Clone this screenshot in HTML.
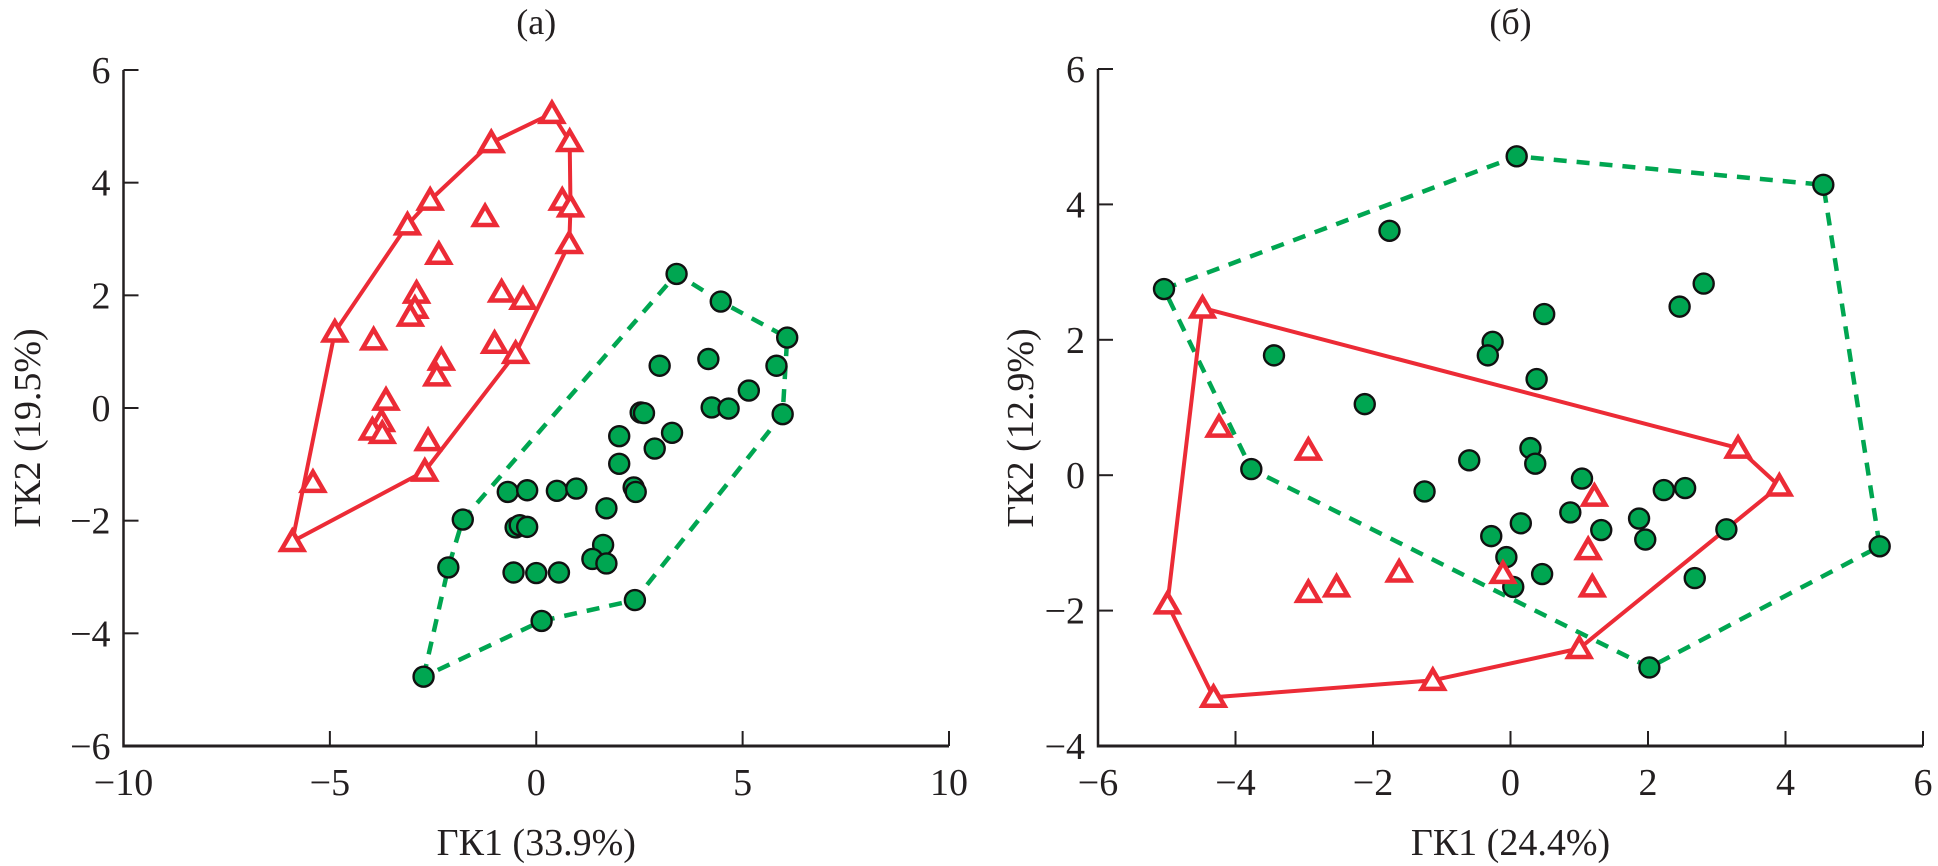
<!DOCTYPE html>
<html><head><meta charset="utf-8"><style>
html,body{margin:0;padding:0;background:#fff;}
svg{display:block;}
text{font-family:"Liberation Serif","DejaVu Serif",serif;fill:#231f20;}
</style></head><body>
<svg id="chart" width="1938" height="866" viewBox="0 0 1938 866" xmlns="http://www.w3.org/2000/svg"></svg>
<script>
// Panel (a) data
const aRedX = [0.38,0.81,-1.09,0.63,0.83,-2.57,-1.24,-3.12,-2.36,0.80,-2.90,-2.94,-3.05,-0.84,-0.32,-4.88,-3.94,-1.01,-0.50,-2.30,-2.41,-3.64,-3.75,-3.97,-3.73,-2.62,-2.70,-5.41,-5.91];
const aRedY = [5.23,4.73,4.71,3.69,3.57,3.69,3.40,3.25,2.73,2.92,2.04,1.77,1.63,2.06,1.93,1.35,1.21,1.15,0.97,0.85,0.57,0.14,-0.24,-0.39,-0.45,-0.58,-1.12,-1.32,-2.37];
const aRedHullX = [-5.91,-4.88,-3.12,-2.57,-1.09,0.38,0.81,0.83,0.80,-0.50,-2.70];
const aRedHullY = [-2.37,1.35,3.25,3.69,4.71,5.23,4.73,3.57,2.92,0.97,-1.12];
const aGreenX = [3.40,4.47,6.08,2.99,4.17,5.82,5.15,4.25,4.66,5.97,2.53,2.61,2.01,3.29,2.87,2.01,2.36,2.41,-0.69,-0.22,0.50,0.97,1.70,-1.78,-0.50,-0.40,-0.22,1.62,1.36,1.70,-2.13,-0.55,0.00,0.55,2.39,0.13,-2.73];
const aGreenY = [2.38,1.89,1.25,0.75,0.87,0.75,0.31,0.01,-0.01,-0.11,-0.08,-0.09,-0.50,-0.44,-0.72,-0.99,-1.41,-1.49,-1.49,-1.46,-1.47,-1.43,-1.78,-1.98,-2.12,-2.08,-2.11,-2.43,-2.68,-2.76,-2.83,-2.92,-2.93,-2.92,-3.41,-3.78,-4.77];
const aGreenHullX = [-2.73,-2.13,-1.78,3.40,4.47,6.08,5.97,2.39,0.13];
const aGreenHullY = [-4.77,-2.83,-1.98,2.38,1.89,1.25,-0.11,-3.41,-3.78];
const aXTicks = [-10,-5,0,5,10];
const aYTicks = [6,4,2,0,-2,-4,-6];

// Panel (b) data
const bGreenX = [0.09,-1.76,-5.04,0.49,-0.26,-0.33,-3.44,0.38,-2.12,0.29,0.36,-0.60,-3.77,1.04,-1.25,0.87,0.15,1.32,-0.28,-0.06,0.46,0.04,4.55,2.81,2.46,5.37,2.23,2.54,1.87,1.96,3.14,2.68,2.02];
const bGreenY = [4.71,3.61,2.75,2.38,1.97,1.77,1.77,1.42,1.05,0.40,0.17,0.22,0.09,-0.05,-0.24,-0.55,-0.71,-0.81,-0.90,-1.21,-1.46,-1.65,4.29,2.83,2.49,-1.05,-0.22,-0.19,-0.64,-0.95,-0.80,-1.52,-2.84];
const bGreenHullX = [-5.04,0.09,4.55,5.37,2.02,-3.77];
const bGreenHullY = [2.75,4.71,4.29,-1.05,-2.84,0.09];
const bRedX = [-4.48,-4.24,-2.94,-4.99,-2.94,-2.53,-1.62,-0.11,1.22,1.13,1.19,3.31,3.91,-4.32,-1.13,1.00];
const bRedY = [2.47,0.71,0.37,-1.90,-1.73,-1.65,-1.43,-1.45,-0.31,-1.10,-1.65,0.40,-0.16,-3.28,-3.03,-2.56];
const bRedHullX = [-4.48,3.31,3.91,1.00,-1.13,-4.32,-4.99];
const bRedHullY = [2.47,0.40,-0.16,-2.56,-3.03,-3.28,-1.90];
const bXTicks = [-6,-4,-2,0,2,4,6];
const bYTicks = [6,4,2,0,-2,-4];

const NS = "http://www.w3.org/2000/svg";
const svg = document.getElementById('chart');
const RED = "#ec2b36", GREEN = "#00a651";

function mk(tag, attrs, parent){
  const e = document.createElementNS(NS, tag);
  for (const k in attrs) e.setAttribute(k, attrs[k]);
  (parent||svg).appendChild(e);
  return e;
}

function panel(cfg){
  const g = mk('g', {});
  
  
  const sx = v => cfg.x0 + (v - cfg.xmin) / (cfg.xmax - cfg.xmin) * (cfg.x1 - cfg.x0);
  const sy = v => cfg.y1 - (v - cfg.ymin) / (cfg.ymax - cfg.ymin) * (cfg.y1 - cfg.y0);
  const ls = mk('line', {x1:cfg.x0, y1:cfg.y0, x2:cfg.x0, y2:cfg.y1+1.5, stroke:'#231f20','stroke-width':2.5}, g);
  
  
  const bs = mk('line', {x1:cfg.x0-1, y1:cfg.y1, x2:cfg.x1, y2:cfg.y1, stroke:'#231f20','stroke-width':3}, g);
  
  
  cfg.xt.forEach(v => {
    const t = mk('line', {x1:sx(v), y1:cfg.y1, x2:sx(v), y2:cfg.y1-15, stroke:'#231f20','stroke-width':2}, g);
    
    
    const l = mk('text', {x:sx(v), y:cfg.y1+49, 'text-anchor':'middle', 'font-size':38}, g);
    
    
    l.textContent = v < 0 ? '\u2212' + Math.abs(v) : String(v);
  });
  cfg.yt.forEach(v => {
    const t = mk('line', {x1:cfg.x0, y1:sy(v), x2:cfg.x0+15, y2:sy(v), stroke:'#231f20','stroke-width':2}, g);
    
    
    const l = mk('text', {x:cfg.x0-13, y:sy(v)+13, 'text-anchor':'end', 'font-size':38}, g);
    
    
    l.textContent = v < 0 ? '\u2212' + Math.abs(v) : String(v);
  });
  const xt = mk('text', {x:(cfg.x0+cfg.x1)/2, y:855, 'text-anchor':'middle', 'font-size':38}, g);
  
  
  xt.textContent = cfg.xtitle;
  const ycx = cfg.ytx, ycy = 428;
  const yt = mk('text', {x:ycx, y:ycy, 'text-anchor':'middle', 'font-size':38, transform:`rotate(-90 ${ycx} ${ycy})`}, g);
  
  
  yt.textContent = cfg.ytitle;
  const tt = mk('text', {x:(cfg.x0+cfg.x1)/2, y:34, 'text-anchor':'middle', 'font-size':36}, g);
  
  
  tt.textContent = cfg.title;
  const gp = cfg.gHx.map((v,i) => sx(v)+','+sy(cfg.gHy[i])).join(' ');
  const gh = mk('polygon', {points:gp, fill:'none', stroke:GREEN, 'stroke-width':4.5, 'stroke-dasharray':'13 10', 'stroke-linejoin':'round'}, g);
  
  
  const rp = cfg.rHx.map((v,i) => sx(v)+','+sy(cfg.rHy[i])).join(' ');
  const rh = mk('polygon', {points:rp, fill:'none', stroke:RED, 'stroke-width':4, 'stroke-linejoin':'round'}, g);
  
  
  cfg.gx.forEach((v,i) => {
    const c = mk('circle', {cx:sx(v), cy:sy(cfg.gy[i]), r:10, fill:GREEN, stroke:'#111', 'stroke-width':2.4}, g);
    
    
  });
  cfg.rx.forEach((v,i) => {
    const cx = sx(v), cy = sy(cfg.ry[i]);
    const p = `${cx},${cy-10.5} ${cx+11},${cy+8.5} ${cx-11},${cy+8.5}`;
    const t = mk('polygon', {points:p, fill:'#fff', stroke:RED, 'stroke-width':4.5, 'stroke-linejoin':'miter'}, g);
    
    
  });
}

panel({name:'panel-a', x0:123.5, x1:949, y0:70, y1:746, xmin:-10, xmax:10, ymin:-6, ymax:6,
  xt:aXTicks, yt:aYTicks, xtitle:'\u0413\u041a1 (33.9%)', ytitle:'\u0413\u041a2 (19.5%)', ytx:40, title:'(\u0430)',
  gx:aGreenX, gy:aGreenY, gHx:aGreenHullX, gHy:aGreenHullY, rx:aRedX, ry:aRedY, rHx:aRedHullX, rHy:aRedHullY});
panel({name:'panel-b', x0:1098, x1:1923, y0:69, y1:746, xmin:-6, xmax:6, ymin:-4, ymax:6,
  xt:bXTicks, yt:bYTicks, xtitle:'\u0413\u041a1 (24.4%)', ytitle:'\u0413\u041a2 (12.9%)', ytx:1033, title:'(\u0431)',
  gx:bGreenX, gy:bGreenY, gHx:bGreenHullX, gHy:bGreenHullY, rx:bRedX, ry:bRedY, rHx:bRedHullX, rHy:bRedHullY});
</script>
</body></html>
